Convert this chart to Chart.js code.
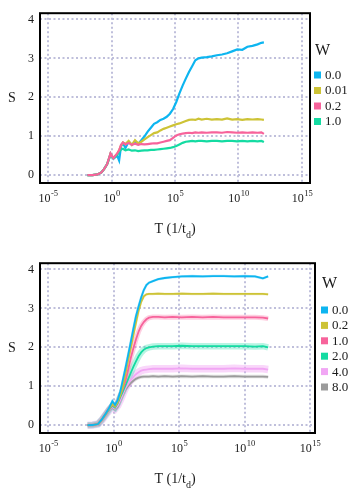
<!DOCTYPE html>
<html>
<head>
<meta charset="utf-8">
<script src="https://cdn.jsdelivr.net/npm/chart.js@4.4.1/dist/chart.umd.min.js"></script>
<style>
    body { margin: 0; background: #fff; }
    .panel { width: 350px; height: 250px; }
    canvas { display: block; }
</style>
</head>
<body>
<div class="panel"><canvas id="topChart" width="350" height="250"></canvas></div>
<div class="panel"><canvas id="bottomChart" width="350" height="250"></canvas></div>
<script>
// x values are log10(T)
const xTickExp = [-5, 0, 5, 10, 15];
const yTicks = [0, 1, 2, 3, 4];

const topLogT = [-1.9, -1.5, -1.1, -0.8, -0.6, -0.35, -0.2, -0.08, 0.15, 0.45,
    0.6, 0.75, 0.9, 1.1, 1.35, 1.6, 1.85, 2.1, 2.35, 2.6,
    2.85, 3.1, 3.35, 3.6, 3.85, 4.1, 4.35, 4.6, 4.85, 5.1,
    5.35, 5.6, 5.85, 6.1, 6.35, 6.6, 6.85, 7.1, 7.5, 7.9,
    8.3, 8.7, 9.1, 9.5, 9.9, 10.3, 10.7, 11.1, 11.5, 11.8, 12.0];
const topLabels = ['0.0', '0.01', '0.2', '1.0'];
const topW00 = [0, 0, 0.02, 0.07, 0.15, 0.28, 0.42, 0.55, 0.42, 0.5,
    0.38, 0.74, 0.82, 0.7, 0.86, 0.78, 0.84, 0.8, 0.9, 1.0,
    1.12, 1.22, 1.32, 1.36, 1.42, 1.45, 1.5, 1.58, 1.7, 1.88,
    2.1, 2.3, 2.48, 2.65, 2.8, 2.95, 3.0, 3.02, 3.03, 3.05,
    3.08, 3.1, 3.13, 3.18, 3.23, 3.22, 3.3, 3.32, 3.36, 3.4, 3.41];
const topW001 = [0, 0, 0.02, 0.07, 0.15, 0.28, 0.42, 0.55, 0.44, 0.55,
    0.64, 0.76, 0.84, 0.8, 0.88, 0.78, 0.9, 0.82, 0.86, 0.92,
    0.98, 1.03, 1.08, 1.1, 1.15, 1.19, 1.22, 1.25, 1.28, 1.31,
    1.33, 1.36, 1.39, 1.42, 1.43, 1.42, 1.45, 1.43, 1.45, 1.43,
    1.44, 1.43, 1.46, 1.43, 1.44, 1.42, 1.44, 1.43, 1.44, 1.43, 1.42];
const topW02 = [0, 0, 0.02, 0.07, 0.15, 0.28, 0.43, 0.56, 0.44, 0.56,
    0.64, 0.78, 0.84, 0.79, 0.83, 0.78, 0.81, 0.78, 0.8, 0.79,
    0.8, 0.81, 0.82, 0.82, 0.84, 0.86, 0.88, 0.9, 0.96, 1.02,
    1.05, 1.07, 1.08, 1.09, 1.08, 1.1, 1.09, 1.1, 1.09, 1.1,
    1.1, 1.09, 1.11, 1.1, 1.09, 1.1, 1.09, 1.1, 1.09, 1.1, 1.06];
const topW10 = [0, 0, 0.02, 0.07, 0.15, 0.28, 0.42, 0.52, 0.45, 0.52,
    0.6, 0.66, 0.68, 0.64, 0.66, 0.63, 0.64, 0.62, 0.63, 0.64,
    0.64, 0.65, 0.65, 0.66, 0.67, 0.68, 0.69, 0.7, 0.72, 0.75,
    0.79, 0.83, 0.86, 0.87, 0.88, 0.87, 0.88, 0.88, 0.87, 0.88,
    0.88, 0.87, 0.88, 0.88, 0.87, 0.88, 0.87, 0.88, 0.87, 0.88, 0.85];

const bottomLogT = [-2.0, -1.6, -1.2, -0.9, -0.6, -0.35, -0.1, 0.1, 0.3, 0.5,
    0.7, 0.9, 1.1, 1.3, 1.5, 1.7, 1.9, 2.1, 2.3, 2.5,
    2.7, 3.0, 3.4, 3.9, 4.5, 5.2, 6.0, 6.8, 7.6, 8.4,
    9.2, 10.0, 10.8, 11.4, 11.8];
const bottomLabels = ['0.0', '0.2', '1.0', '2.0', '4.0', '8.0'];
const botW00 = [0, 0.005, 0.03, 0.15, 0.3, 0.44, 0.62, 0.52, 0.64, 0.86,
    1.16, 1.47, 1.8, 2.13, 2.47, 2.8, 3.05, 3.28, 3.47, 3.6,
    3.66, 3.7, 3.75, 3.78, 3.8, 3.82, 3.83, 3.82, 3.83, 3.83,
    3.82, 3.83, 3.82, 3.77, 3.82];
const botW02 = [0, 0.005, 0.03, 0.14, 0.29, 0.42, 0.54, 0.48, 0.58, 0.76,
    0.98, 1.32, 1.66, 1.98, 2.31, 2.63, 2.94, 3.17, 3.31, 3.36,
    3.37, 3.37, 3.38, 3.37, 3.37, 3.38, 3.37, 3.37, 3.38, 3.37,
    3.37, 3.37, 3.37, 3.37, 3.36];
const botW10 = [0, 0.005, 0.03, 0.14, 0.29, 0.42, 0.52, 0.48, 0.6, 0.78,
    0.94, 1.13, 1.42, 1.72, 1.97, 2.2, 2.4, 2.55, 2.65, 2.72,
    2.76, 2.78, 2.78, 2.77, 2.78, 2.77, 2.78, 2.77, 2.78, 2.77,
    2.77, 2.77, 2.77, 2.76, 2.74];
const botW20 = [0, 0.005, 0.03, 0.14, 0.28, 0.4, 0.5, 0.45, 0.56, 0.72,
    0.86, 1.02, 1.18, 1.34, 1.5, 1.64, 1.77, 1.87, 1.94, 1.98,
    2.0, 2.02, 2.03, 2.03, 2.03, 2.04, 2.03, 2.03, 2.03, 2.03,
    2.03, 2.03, 2.02, 2.03, 2.0];
const botW40 = [0, 0.005, 0.03, 0.13, 0.27, 0.38, 0.47, 0.42, 0.5, 0.64,
    0.8, 0.95, 1.06, 1.16, 1.24, 1.31, 1.36, 1.4, 1.42, 1.43,
    1.44, 1.45, 1.45, 1.45, 1.45, 1.46, 1.45, 1.45, 1.45, 1.45,
    1.46, 1.45, 1.45, 1.45, 1.43];
const botW80 = [0, 0.005, 0.03, 0.13, 0.27, 0.38, 0.45, 0.4, 0.47, 0.62,
    0.78, 0.92, 1.0, 1.08, 1.14, 1.19, 1.22, 1.24, 1.25, 1.25,
    1.25, 1.26, 1.25, 1.26, 1.25, 1.26, 1.25, 1.26, 1.25, 1.25,
    1.26, 1.25, 1.25, 1.25, 1.24];

const palette = ['#0db5f0', '#cdc336', '#f7639b', '#14dba2', '#f1a6f4', '#9b9b9b'];
const bandAlpha = ['rgba(13,181,240,0.3)', 'rgba(205,195,54,0.3)', 'rgba(247,99,155,0.3)',
    'rgba(20,219,162,0.3)', 'rgba(241,166,244,0.45)', 'rgba(155,155,155,0.3)'];
const bandWidths = [2.5, 2.5, 5, 6.5, 7.5, 3.5];
const SERIF = '"Liberation Serif", "DejaVu Serif", serif';
const gridColor = '#bfbfdb';

const toPoints = (xs, ys) => xs.map((x, i) => ({ x, y: ys[i] }));

const decorPlugin = {
    id: 'decor',
    afterDraw(chart, args, opts) {
        const { ctx, chartArea: a } = chart;
        const xs = chart.scales.x;
        ctx.save();

        ctx.strokeStyle = '#000';
        ctx.lineWidth = 2;
        ctx.strokeRect(a.left, a.top, a.right - a.left, a.bottom - a.top);

        ctx.fillStyle = '#1a1a1a';
        ctx.textAlign = 'left';
        ctx.textBaseline = 'alphabetic';

        // tick labels like 10^n
        xTickExp.forEach(n => {
            const x = xs.getPixelForValue(n);
            ctx.font = '12px ' + SERIF;
            const wBase = ctx.measureText('10').width;
            ctx.font = '8.5px ' + SERIF;
            const wExp = ctx.measureText(String(n)).width;
            const left = x - (wBase + wExp) / 2;
            ctx.font = '12px ' + SERIF;
            ctx.fillText('10', left, a.bottom + 19);
            ctx.font = '8.5px ' + SERIF;
            ctx.fillText(String(n), left + wBase + 0.5, a.bottom + 13);
        });

        // x title T (1/t_d)
        ctx.font = '14px ' + SERIF;
        const p1 = 'T (1/t';
        const w1 = ctx.measureText(p1).width;
        const w3 = ctx.measureText(')').width;
        ctx.font = '10px ' + SERIF;
        const w2 = ctx.measureText('d').width;
        let tx = 175 - (w1 + w2 + w3) / 2;
        const ty = a.bottom + 50;
        ctx.font = '14px ' + SERIF;
        ctx.fillText(p1, tx, ty);
        ctx.font = '10px ' + SERIF;
        ctx.fillText('d', tx + w1, ty + 5);
        ctx.font = '14px ' + SERIF;
        ctx.fillText(')', tx + w1 + w2, ty);

        // y title
        ctx.textAlign = 'center';
        ctx.textBaseline = 'middle';
        ctx.fillText('S', 12, (a.top + a.bottom) / 2);

        // legend
        ctx.textAlign = 'left';
        ctx.font = '16px ' + SERIF;
        ctx.textBaseline = 'alphabetic';
        ctx.fillText('W', opts.boxX + 1, opts.titleY);
        ctx.font = '13px ' + SERIF;
        ctx.textBaseline = 'middle';
        opts.labels.forEach((lab, i) => {
            const y = opts.firstY + i * opts.step;
            ctx.fillStyle = palette[i];
            ctx.fillRect(opts.boxX, y - 3.5, 7, 7);
            ctx.fillStyle = '#1a1a1a';
            ctx.fillText(lab, opts.boxX + 11, y + 0.5);
        });
        ctx.restore();
    }
};

function makeOptions(xMax, rightPad, legendOpts) {
    return {
        responsive: false,
        animation: false,
        devicePixelRatio: 1,
        layout: { padding: { top: 1, left: 0, right: rightPad, bottom: 0 } },
        elements: { point: { radius: 0 }, line: { tension: 0 } },
        plugins: {
            legend: { display: false },
            tooltip: { enabled: false },
            decor: legendOpts
        },
        scales: {
            x: {
                type: 'linear',
                min: -5.63,
                max: xMax,
                afterBuildTicks: s => { s.ticks = xTickExp.map(v => ({ value: v })); },
                afterFit: s => { s.height = 67; },
                ticks: { display: false },
                grid: { color: gridColor, lineWidth: 2, drawTicks: false },
                border: { display: false, dash: [2, 2.5] }
            },
            y: {
                min: -0.2,
                max: 4.16,
                afterBuildTicks: s => { s.ticks = yTicks.map(v => ({ value: v })); },
                afterFit: s => { s.width = 40; },
                ticks: {
                    padding: 6,
                    color: '#1a1a1a',
                    font: { family: SERIF, size: 12 }
                },
                grid: { color: gridColor, lineWidth: 2, drawTicks: false },
                border: { display: false, dash: [2, 2.5] }
            }
        }
    };
}

const topSeries = [topW00, topW001, topW02, topW10];
const topOrder = [3, 2, 0, 1];
new Chart(document.getElementById('topChart'), {
    type: 'scatter',
    data: {
        datasets: topSeries.map((ys, i) => ({
            label: topLabels[i],
            data: toPoints(topLogT, ys),
            showLine: true,
            borderColor: palette[i],
            borderWidth: 2.2,
            order: topOrder[i]
        }))
    },
    options: makeOptions(15.63, 40, { boxX: 314, titleY: 55, firstY: 75, step: 15.5, labels: topLabels }),
    plugins: [decorPlugin]
});

const bottomSeries = [botW00, botW02, botW10, botW20, botW40, botW80];
const bottomBands = bottomSeries.map((ys, i) => ({
    label: '_band' + i,
    data: toPoints(bottomLogT, ys),
    showLine: true,
    borderColor: bandAlpha[i],
    borderWidth: bandWidths[i],
    order: 20 + i
}));
const bottomLines = bottomSeries.map((ys, i) => ({
    label: bottomLabels[i],
    data: toPoints(bottomLogT, ys),
    showLine: true,
    borderColor: palette[i],
    borderWidth: 1.8,
    order: i
}));
new Chart(document.getElementById('bottomChart'), {
    type: 'scatter',
    data: { datasets: bottomBands.concat(bottomLines) },
    options: makeOptions(15.38, 35, { boxX: 321, titleY: 38, firstY: 60, step: 15.4, labels: bottomLabels }),
    plugins: [decorPlugin]
});
</script>
</body>
</html>
